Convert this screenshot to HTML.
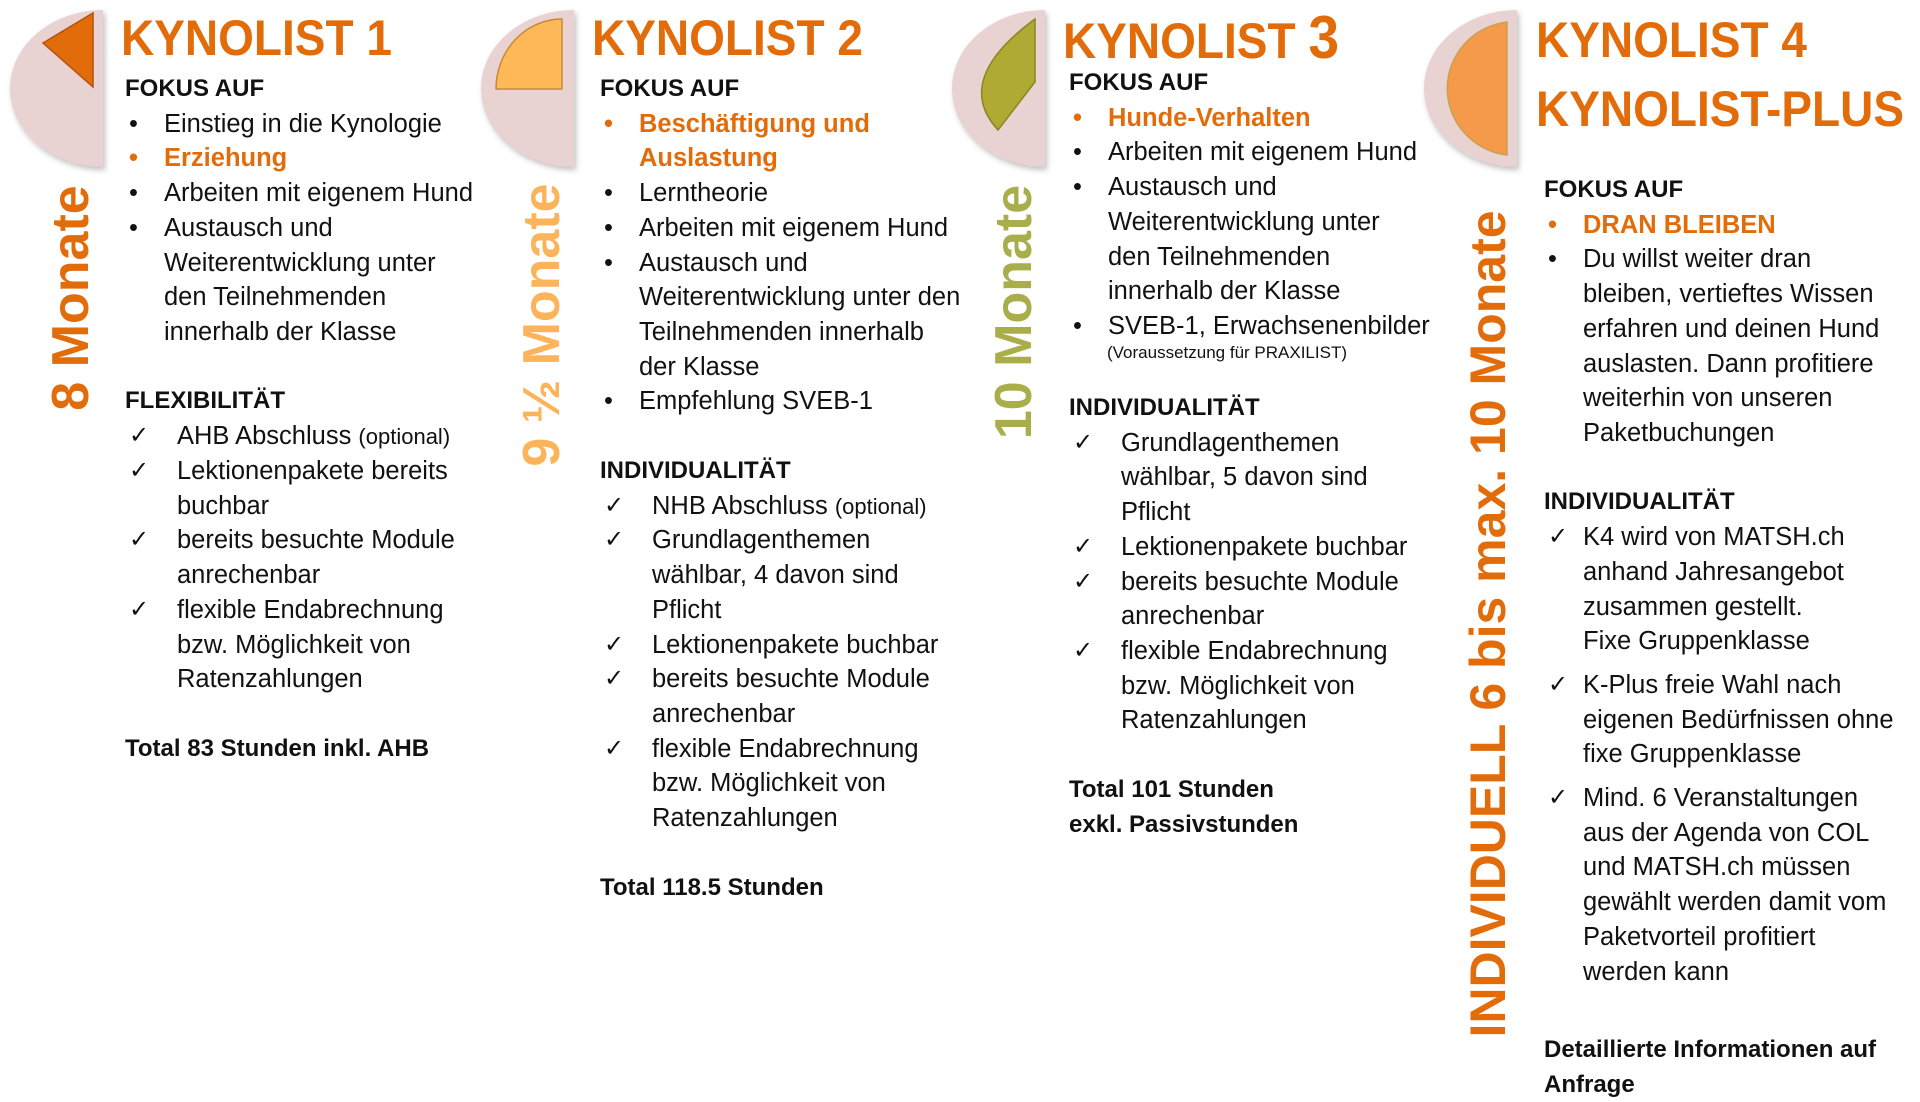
<!DOCTYPE html>
<html><head><meta charset="utf-8"><style>
body{margin:0;background:#fff;width:1920px;height:1097px;overflow:hidden;position:relative;font-family:"Liberation Sans",sans-serif;color:#111;}
.a{position:absolute;white-space:nowrap;}
.t{font-weight:bold;color:#e36c0a;font-size:50px;line-height:58px;transform:scaleX(0.92);transform-origin:left;}
.blk{position:absolute;font-size:25.5px;line-height:34.72px;white-space:nowrap;}
.blk div{position:relative;height:34.72px;}
.h{font-weight:bold;font-size:24px;}
.b{padding-left:39px;}
.b::before{content:"•";position:absolute;left:4px;}
.o{color:#e36c0a;font-weight:bold;}
.o::before{color:#e36c0a;}
.c{padding-left:52px;}
.c::before{content:"✓";position:absolute;left:4px;font-size:24px;}
.i{padding-left:39px;}
.ic{padding-left:52px;}
.v{position:absolute;font-weight:bold;font-size:52px;transform:translate(-50%,-50%) rotate(-90deg);white-space:nowrap;}
svg{position:absolute;overflow:visible;}
</style></head><body>

<!-- pies -->
<svg style="left:10px;top:10px" width="95" height="160"><path d="M93,0 A93,78.5 0 0 0 93,157 Z" fill="#e8d2d2" style="filter:drop-shadow(2px 3px 3px rgba(0,0,0,.25))"/><path d="M33,33 L83,3 L83,77 Z" fill="#e36c0a" stroke="#b5530a" stroke-width="1.5"/></svg>
<svg style="left:481px;top:10px" width="95" height="160"><path d="M93,0 A93,78.5 0 0 0 93,157 Z" fill="#e8d2d2" style="filter:drop-shadow(2px 3px 3px rgba(0,0,0,.25))"/><path d="M81,9 L81,79 L15,79 A66,70 0 0 1 81,9 Z" fill="#fdb858" stroke="#c98a30" stroke-width="1.5"/></svg>
<svg style="left:952px;top:10px" width="95" height="160"><path d="M93,0 A93,78.5 0 0 0 93,157 Z" fill="#e8d2d2" style="filter:drop-shadow(2px 3px 3px rgba(0,0,0,.25))"/><path d="M83,9 L83,72 L46,120 Q0,70 83,9 Z" fill="#b0aa34" stroke="#8a8620" stroke-width="1.5"/></svg>
<svg style="left:1424px;top:10px" width="95" height="160"><path d="M93,0 A93,78.5 0 0 0 93,157 Z" fill="#e8d2d2" style="filter:drop-shadow(2px 3px 3px rgba(0,0,0,.25))"/><path d="M83,12 L83,145 A68,67 0 0 1 83,12 Z" fill="#f59a4a" stroke="#c9a050" stroke-width="1.5"/></svg>

<!-- titles -->
<div class="a t" style="left:121px;top:9px">KYNOLIST 1</div>
<div class="a t" style="left:592px;top:9px">KYNOLIST 2</div>
<div class="a t" style="left:1063px;top:9px">KYNOLIST <span style="font-size:60px">3</span></div>
<div class="a t" style="left:1536px;top:11px">KYNOLIST 4</div>
<div class="a t" style="left:1536px;top:80px">KYNOLIST-PLUS</div>

<!-- vertical -->
<div class="v" style="left:71px;top:298px;color:#e36c0a">8 Monate</div>
<div class="v" style="left:542px;top:325px;color:#fbb45a">9 ½ Monate</div>
<div class="v" style="left:1014px;top:312px;color:#a9ae4a">10 Monate</div>
<div class="v" style="left:1488px;top:624px;color:#e36c0a;font-size:50px">INDIVIDUELL 6 bis max. 10 Monate</div>

<!-- col1 -->
<div class="blk" style="left:125px;top:72px">
<div class="h">FOKUS AUF</div>
<div class="b">Einstieg in die Kynologie</div>
<div class="b o">Erziehung</div>
<div class="b">Arbeiten mit eigenem Hund</div>
<div class="b">Austausch und</div>
<div class="i">Weiterentwicklung unter</div>
<div class="i">den Teilnehmenden</div>
<div class="i">innerhalb der Klasse</div>
<div></div>
<div class="h">FLEXIBILITÄT</div>
<div class="c">AHB Abschluss <span style="font-size:22px">(optional)</span></div>
<div class="c">Lektionenpakete bereits</div>
<div class="ic">buchbar</div>
<div class="c">bereits besuchte Module</div>
<div class="ic">anrechenbar</div>
<div class="c">flexible Endabrechnung</div>
<div class="ic">bzw. Möglichkeit von</div>
<div class="ic">Ratenzahlungen</div>
<div></div>
<div class="h">Total 83 Stunden inkl. AHB</div>
</div>

<!-- col2 -->
<div class="blk" style="left:600px;top:72px">
<div class="h">FOKUS AUF</div>
<div class="b o">Beschäftigung und</div>
<div class="i o">Auslastung</div>
<div class="b">Lerntheorie</div>
<div class="b">Arbeiten mit eigenem Hund</div>
<div class="b">Austausch und</div>
<div class="i">Weiterentwicklung unter den</div>
<div class="i">Teilnehmenden innerhalb</div>
<div class="i">der Klasse</div>
<div class="b">Empfehlung SVEB-1</div>
<div></div>
<div class="h">INDIVIDUALITÄT</div>
<div class="c">NHB Abschluss <span style="font-size:22px">(optional)</span></div>
<div class="c">Grundlagenthemen</div>
<div class="ic">wählbar, 4 davon sind</div>
<div class="ic">Pflicht</div>
<div class="c">Lektionenpakete buchbar</div>
<div class="c">bereits besuchte Module</div>
<div class="ic">anrechenbar</div>
<div class="c">flexible Endabrechnung</div>
<div class="ic">bzw. Möglichkeit von</div>
<div class="ic">Ratenzahlungen</div>
<div></div>
<div class="h">Total 118.5 Stunden</div>
</div>

<!-- col3 -->
<div class="blk" style="left:1069px;top:66px">
<div class="h">FOKUS AUF</div>
<div class="b o">Hunde-Verhalten</div>
<div class="b">Arbeiten mit eigenem Hund</div>
<div class="b">Austausch und</div>
<div class="i">Weiterentwicklung unter</div>
<div class="i">den Teilnehmenden</div>
<div class="i">innerhalb der Klasse</div>
<div class="b">SVEB-1, Erwachsenenbilder</div>
</div>
<div class="a" style="left:1107px;top:343px;font-size:17px">(Voraussetzung für PRAXILIST)</div>
<div class="blk" style="left:1069px;top:391px">
<div class="h">INDIVIDUALITÄT</div>
<div class="c">Grundlagenthemen</div>
<div class="ic">wählbar, 5 davon sind</div>
<div class="ic">Pflicht</div>
<div class="c">Lektionenpakete buchbar</div>
<div class="c">bereits besuchte Module</div>
<div class="ic">anrechenbar</div>
<div class="c">flexible Endabrechnung</div>
<div class="ic">bzw. Möglichkeit von</div>
<div class="ic">Ratenzahlungen</div>
<div></div>
<div class="h">Total 101 Stunden</div>
<div class="h">exkl. Passivstunden</div>
</div>

<!-- col4 -->
<div class="blk" style="left:1544px;top:173px">
<div class="h">FOKUS AUF</div>
<div class="b o">DRAN BLEIBEN</div>
<div class="b">Du willst weiter dran</div>
<div class="i">bleiben, vertieftes Wissen</div>
<div class="i">erfahren und deinen Hund</div>
<div class="i">auslasten. Dann profitiere</div>
<div class="i">weiterhin von unseren</div>
<div class="i">Paketbuchungen</div>
<div></div>
<div class="h">INDIVIDUALITÄT</div>
<div class="c" style="padding-left:39px">K4 wird von MATSH.ch</div>
<div class="i">anhand Jahresangebot</div>
<div class="i">zusammen gestellt.</div>
<div class="i">Fixe Gruppenklasse</div>
</div>
<div class="blk" style="left:1544px;top:668px">
<div class="c" style="padding-left:39px">K-Plus freie Wahl nach</div>
<div class="i">eigenen Bedürfnissen ohne</div>
<div class="i">fixe Gruppenklasse</div>
</div>
<div class="blk" style="left:1544px;top:781px">
<div class="c" style="padding-left:39px">Mind. 6 Veranstaltungen</div>
<div class="i">aus der Agenda von COL</div>
<div class="i">und MATSH.ch müssen</div>
<div class="i">gewählt werden damit vom</div>
<div class="i">Paketvorteil profitiert</div>
<div class="i">werden kann</div>
</div>
<div class="blk" style="left:1544px;top:1033px">
<div class="h">Detaillierte Informationen auf</div>
<div class="h">Anfrage</div>
</div>
</body></html>
